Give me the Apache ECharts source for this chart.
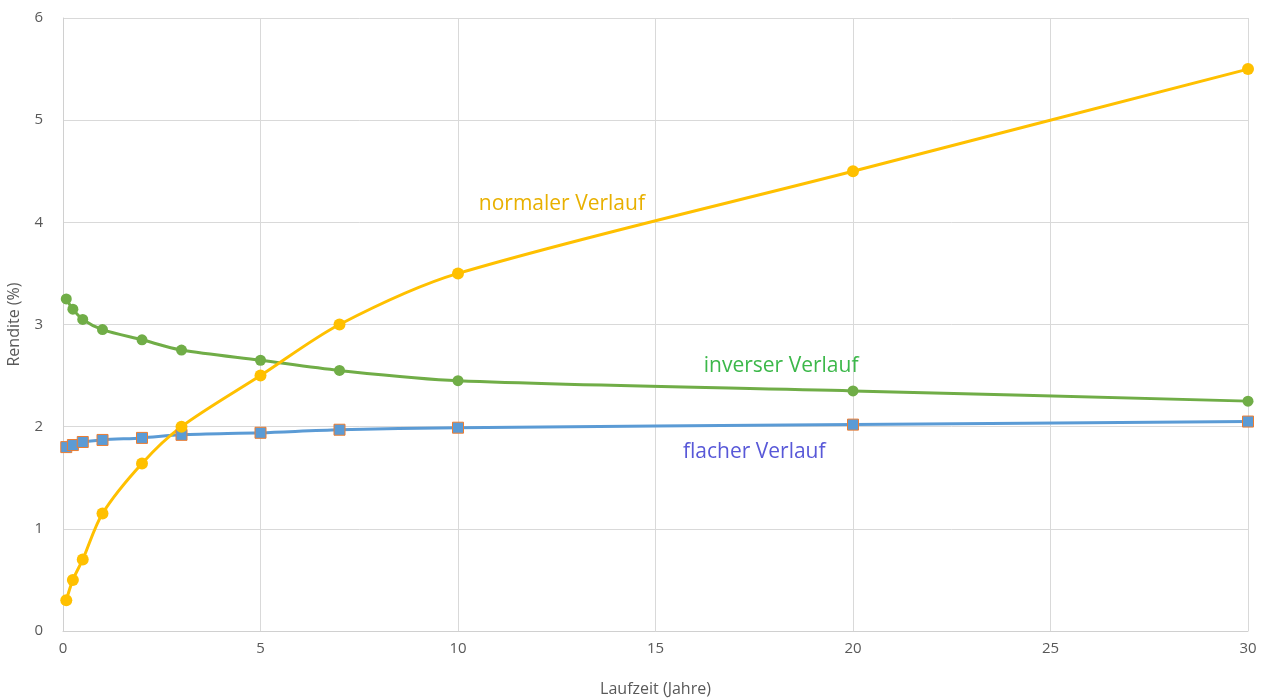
<!DOCTYPE html>
<html>
<head>
<meta charset="utf-8">
<script src="https://cdn.jsdelivr.net/npm/echarts@6/dist/echarts.min.js"></script>
<style>html,body{margin:0;padding:0;background:#fff;}#c{width:1266px;height:699px;}</style>
</head>
<body>
<div id="c"></div>
<script>
const laufzeit = [0.083, 0.25, 0.5, 1, 2, 3, 5, 7, 10, 20, 30];
const normal = [0.3, 0.5, 0.7, 1.15, 1.64, 2.0, 2.5, 3.0, 3.5, 4.5, 5.5];
const invers = [3.25, 3.15, 3.05, 2.95, 2.85, 2.75, 2.65, 2.55, 2.45, 2.35, 2.25];
const flach = [1.8, 1.82, 1.85, 1.87, 1.89, 1.92, 1.94, 1.97, 1.99, 2.02, 2.05];
const labels = [
  {text: 'normaler Verlauf', x: 12.63, y: 4.18},
  {text: 'inverser Verlauf', x: 18.18, y: 2.59},
  {text: 'flacher Verlauf', x: 17.5, y: 1.75}
];
const FONT = '"Open Sans", "Liberation Sans", sans-serif';
const pair = arr => laufzeit.map((x, i) => [x, arr[i]]);
function annot(l, color) {
  return {
    symbol: 'rect', symbolSize: 2, silent: true,
    itemStyle: {color: 'rgba(0,0,0,0)'},
    label: {show: true, position: 'inside', formatter: l.text, color: color, fontSize: 21, fontFamily: FONT},
    data: [{coord: [l.x, l.y]}]
  };
}
const chart = echarts.init(document.getElementById('c'));
chart.setOption({
  animation: false,
  grid: {left: 63, right: 18, top: 18, bottom: 68, outerBoundsMode: 'none', containLabel: false},
  xAxis: {
    type: 'value', min: 0, max: 30, interval: 5,
    name: 'Laufzeit (Jahre)', nameLocation: 'middle', nameGap: 50,
    nameTextStyle: {color: '#595959', fontSize: 16, fontFamily: FONT},
    axisLine: {show: true, lineStyle: {color: '#d0d0d0'}},
    axisTick: {show: false},
    axisLabel: {color: '#595959', fontSize: 15, fontFamily: FONT, margin: 10},
    splitLine: {show: true, lineStyle: {color: '#d9d9d9'}}
  },
  yAxis: {
    type: 'value', min: 0, max: 6, interval: 1,
    name: 'Rendite (%)', nameLocation: 'middle', nameGap: 41,
    nameTextStyle: {color: '#595959', fontSize: 16, fontFamily: FONT},
    axisLine: {show: true, lineStyle: {color: '#d0d0d0'}},
    axisTick: {show: false},
    axisLabel: {color: '#595959', fontSize: 15, fontFamily: FONT, margin: 20},
    splitLine: {show: true, lineStyle: {color: '#d9d9d9'}}
  },
  series: [
    {
      name: 'flach', type: 'line', data: pair(flach), smooth: 0.3,
      symbol: 'rect', symbolSize: 11,
      lineStyle: {color: '#5B9BD5', width: 3},
      itemStyle: {color: '#5B9BD5', borderColor: '#ED7D31', borderWidth: 1},
      markPoint: annot(labels[2], '#5858d8')
    },
    {
      name: 'invers', type: 'line', data: pair(invers), smooth: 0.3,
      symbol: 'circle', symbolSize: 11,
      lineStyle: {color: '#70AD47', width: 3},
      itemStyle: {color: '#70AD47'},
      markPoint: annot(labels[1], '#3cb84a')
    },
    {
      name: 'normal', type: 'line', data: pair(normal), smooth: 0.3,
      symbol: 'circle', symbolSize: 12,
      lineStyle: {color: '#FFC000', width: 3},
      itemStyle: {color: '#FFC000'},
      markPoint: annot(labels[0], '#E8B000')
    }
  ]
});
</script>
</body>
</html>
